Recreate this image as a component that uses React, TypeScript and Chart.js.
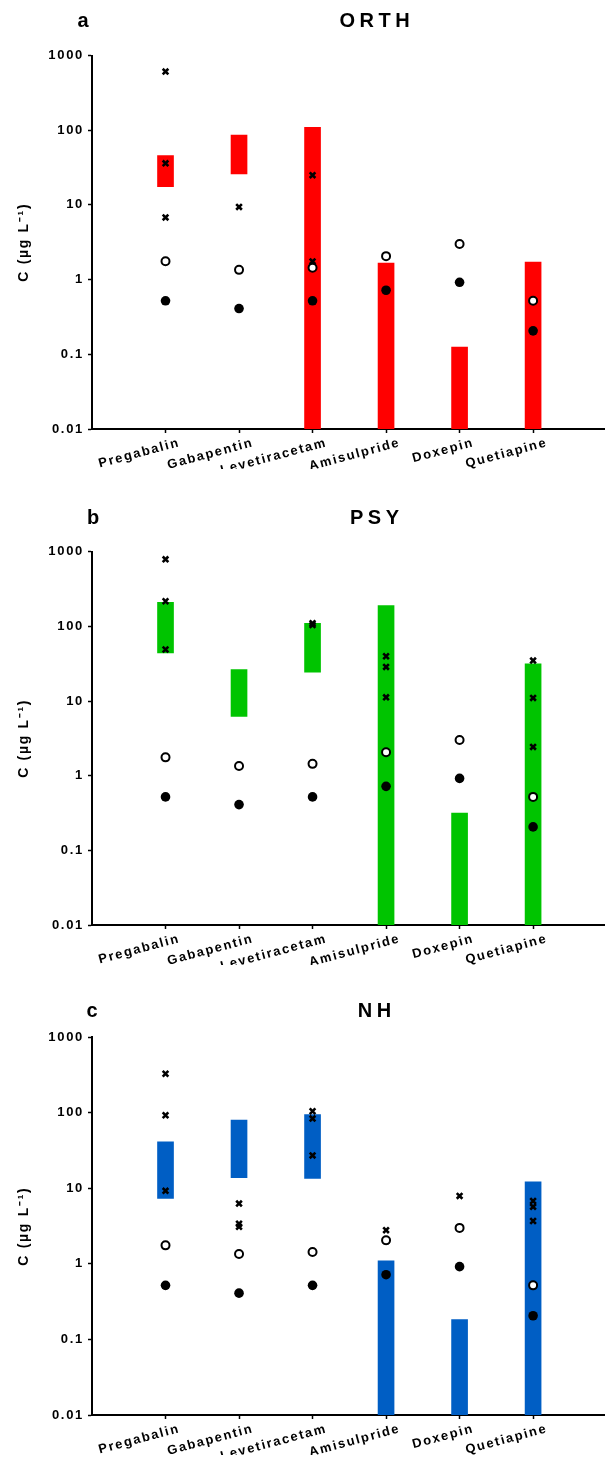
import React, { useEffect, useRef } from 'react';
import { Chart, registerables } from 'chart.js';

Chart.register(...registerables);

const FONT = '"Liberation Sans", Arial, Helvetica, sans-serif';

const drugs = ['Pregabalin', 'Gabapentin', 'Levetiracetam', 'Amisulpride', 'Doxepin', 'Quetiapine'];
const yTickValues = [0.01, 0.1, 1, 10, 100, 1000];

// open circles and filled circles (same in every panel)
const openCircleValues = [1.76, 1.35, 1.44, 2.06, 3.0, 0.52];
const filledCircleValues = [0.52, 0.41, 0.52, 0.72, 0.92, 0.206];

// ORTH
const orthLow = [17.5, 25.9, 0.01, 0.01, 0.01, 0.01];
const orthHigh = [45.7, 86, 109, 1.66, 0.125, 1.71];
const orthCrosses = [[610, 36, 6.8], [9.4], [25, 1.75], [], [], []];

// PSY
const psyLow = [44, 6.24, 24.3, 0.01, 0.01, 0.01];
const psyHigh = [210, 26.4, 110, 190, 0.316, 31.4];
const psyCrosses = [[790, 217, 49], [], [110, 104], [39.8, 28.6, 11.2], [], [34.8, 11, 2.43]];

// NH
const nhLow = [7.35, 13.9, 13.5, 0.01, 0.01, 0.01];
const nhHigh = [41.3, 80, 95, 1.1, 0.183, 12.2];
const nhCrosses = [[329, 93, 9.27], [6.3, 3.4, 3.1], [105, 84, 27.3], [2.8, 2.0], [7.95], [6.8, 5.7, 3.7]];

type PanelProps = {
  letter: string;
  title: string;
  color: string;
  low: number[];
  high: number[];
  crosses: number[][];
  top: number;
  height: number;
  chartTop: number;
  chartBottom: number;
  baseline: number;
  letterX: number;
};

const X_HEIGHT = 40;

function Panel(p: PanelProps) {
  const ref = useRef<HTMLCanvasElement | null>(null);
  useEffect(() => {
    if (!ref.current) return;
    const textPlugin = {
      id: 'panelText',
      beforeDraw(chart: any) {
        chart.ctx.letterSpacing = '1.7px';
      },
      afterDraw(chart: any) {
        const ctx = chart.ctx;
        ctx.save();
        ctx.fillStyle = '#000';
        ctx.textBaseline = 'alphabetic';
        ctx.textAlign = 'center';
        ctx.font = `bold 20px ${FONT}`;
        ctx.letterSpacing = '0px';
        ctx.fillText(p.letter, p.letterX, p.baseline);
        ctx.letterSpacing = '4.5px';
        ctx.fillText(p.title, 374.5 + 2.25, p.baseline);
        ctx.restore();
        ctx.letterSpacing = '0px';
      },
    };
    const gridOpts = {
      display: true,
      drawOnChartArea: false,
      drawTicks: true,
      tickLength: 4,
      tickWidth: 1.5,
      tickColor: '#000',
      offset: false,
    };
    const borderOpts = { display: true, color: '#000', width: 2 };
    const tickFont = { family: FONT, size: 13, weight: 'bold' as const };
    const chart = new Chart(ref.current, {
      type: 'bar',
      data: {
        datasets: [
          {
            type: 'scatter',
            label: 'open',
            data: drugs.map((_, i) => ({ x: i, y: openCircleValues[i] })),
            pointStyle: 'circle',
            pointRadius: 4,
            pointBorderWidth: 2,
            pointBackgroundColor: '#fff',
            pointBorderColor: '#000',
            order: 1,
          } as any,
          {
            type: 'scatter',
            label: 'filled',
            data: drugs.map((_, i) => ({ x: i, y: filledCircleValues[i] })),
            pointStyle: 'circle',
            pointRadius: 4.8,
            pointBorderWidth: 0,
            pointBackgroundColor: '#000',
            pointBorderColor: '#000',
            order: 2,
          },
          {
            type: 'scatter',
            label: 'cross',
            data: p.crosses.flatMap((vals, i) => vals.map((v) => ({ x: i, y: v }))),
            pointStyle: 'crossRot',
            pointRadius: 4,
            pointBorderWidth: 2.6,
            pointBorderColor: '#000',
            pointBackgroundColor: '#000',
            order: 3,
          },
          {
            type: 'bar',
            label: 'range',
            data: drugs.map((_, i) => ({ x: i, y: [p.low[i], p.high[i]] })),
            backgroundColor: p.color,
            borderWidth: 0,
            barThickness: 16,
            order: 4,
          },
        ],
      },
      options: {
        responsive: false,
        animation: false,
        layout: {
          padding: { top: p.chartTop, bottom: p.height - X_HEIGHT - p.chartBottom, left: 0, right: 0 },
        },
        plugins: {
          legend: { display: false },
          tooltip: { enabled: false },
          title: { display: false },
        },
        scales: {
          x: {
            type: 'linear',
            min: -1,
            max: 5.97,
            offset: false,
            afterBuildTicks: (s: any) => {
              s.ticks = drugs.map((_, i) => ({ value: i }));
            },
            afterFit: (s: any) => {
              s.height = X_HEIGHT;
            },
            grid: gridOpts,
            border: borderOpts,
            ticks: {
              autoSkip: false,
              minRotation: 15,
              maxRotation: 15,
              padding: 2,
              labelOffset: 14,
              color: '#000',
              font: tickFont,
              callback: (v: any) => drugs[v] ?? '',
            },
          },
          y: {
            type: 'logarithmic',
            min: 0.01,
            max: 1000,
            afterBuildTicks: (s: any) => {
              s.ticks = yTickValues.map((v) => ({ value: v }));
            },
            afterFit: (s: any) => {
              s.width = 92;
            },
            grid: gridOpts,
            border: borderOpts,
            ticks: {
              padding: 4,
              color: '#000',
              font: tickFont,
              callback: (v: any) => String(v),
            },
            title: {
              display: true,
              text: 'C (µg L⁻¹)',
              color: '#000',
              font: { family: FONT, size: 14, weight: 'bold' },
              padding: { top: 16, bottom: 0 },
            },
          },
        },
      } as any,
      plugins: [textPlugin],
    });
    return () => chart.destroy();
  }, []);
  return (
    <canvas
      ref={ref}
      width={611}
      height={p.height}
      style={{ position: 'absolute', left: 0, top: p.top, display: 'block' }}
    />
  );
}

export default function App() {
  return (
    <div style={{ position: 'absolute', left: 0, top: 0, width: 611, height: 1461, background: '#fff' }}>
      <Panel letter="a" title="ORTH" color="rgb(255,0,0)" low={orthLow} high={orthHigh} crosses={orthCrosses}
        top={0} height={490} chartTop={55.5} chartBottom={429} baseline={27.3} letterX={83} />
      <Panel letter="b" title="PSY" color="rgb(0,196,0)" low={psyLow} high={psyHigh} crosses={psyCrosses}
        top={490} height={490} chartTop={61.7} chartBottom={435} baseline={34} letterX={93} />
      <Panel letter="c" title="NH" color="rgb(0,94,196)" low={nhLow} high={nhHigh} crosses={nhCrosses}
        top={980} height={481} chartTop={57.3} chartBottom={435} baseline={37.3} letterX={92} />
    </div>
  );
}
